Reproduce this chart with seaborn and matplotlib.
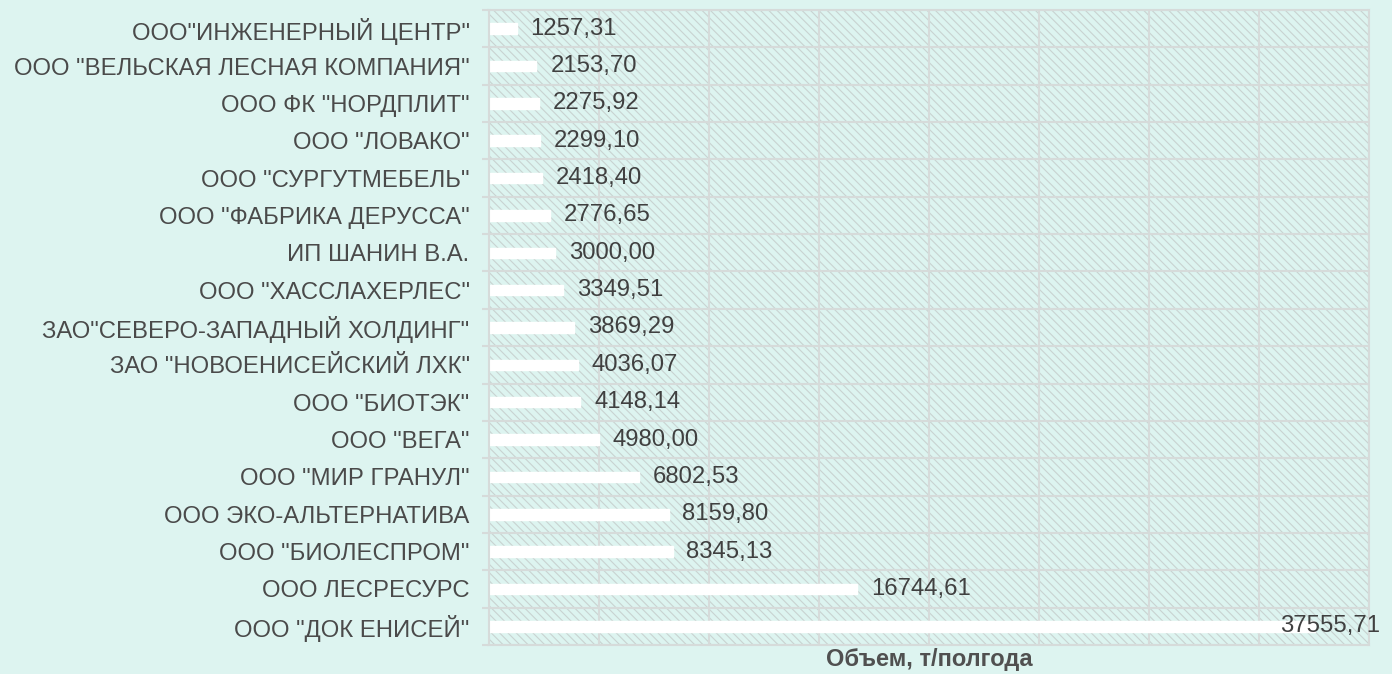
import numpy as np
import pandas as pd
import matplotlib.pyplot as plt
from matplotlib.patches import Rectangle
from matplotlib.ticker import MultipleLocator, FixedLocator, NullFormatter
import seaborn as sns

companies = ['ООО"ИНЖЕНЕРНЫЙ ЦЕНТР"', 'ООО "ВЕЛЬСКАЯ ЛЕСНАЯ КОМПАНИЯ"', 'ООО ФК "НОРДПЛИТ"',
             'ООО "ЛОВАКО"', 'ООО "СУРГУТМЕБЕЛЬ"', 'ООО "ФАБРИКА ДЕРУССА"', 'ИП ШАНИН В.А.',
             'ООО "ХАССЛАХЕРЛЕС"', 'ЗАО"СЕВЕРО-ЗАПАДНЫЙ ХОЛДИНГ"', 'ЗАО "НОВОЕНИСЕЙСКИЙ ЛХК"',
             'ООО "БИОТЭК"', 'ООО "ВЕГА"', 'ООО "МИР ГРАНУЛ"', 'ООО ЭКО-АЛЬТЕРНАТИВА',
             'ООО "БИОЛЕСПРОМ"', 'ООО ЛЕСРЕСУРС', 'ООО "ДОК ЕНИСЕЙ"']
volumes = [1257.31, 2153.70, 2275.92, 2299.10, 2418.40, 2776.65, 3000.00, 3349.51, 3869.29,
           4036.07, 4148.14, 4980.00, 6802.53, 8159.80, 8345.13, 16744.61, 37555.71]
x_title = 'Объем, т/полгода'

df = pd.DataFrame({'company': companies, 'volume': volumes})

bg = '#DDF4F0'
grid_c = '#D6DBDA'
text_c = '#404040'
fs = 17.2

sns.set_theme(style='white')
plt.rcParams['font.family'] = ['Liberation Sans', 'DejaVu Sans']
plt.rcParams['hatch.linewidth'] = 0.8

fig = plt.figure(figsize=(13.92, 6.74), dpi=100, facecolor=bg)
ax = fig.add_axes([0.3513, 0.043, 0.6322, 0.9422])
ax.set_facecolor('none')

# hatched plot area
ax.add_patch(Rectangle((0, 0), 1, 1, transform=ax.transAxes, facecolor=bg,
                       edgecolor='#C9D3D1', hatch='\\\\\\\\', lw=0, zorder=0))

sns.barplot(data=df, y='company', x='volume', orient='h', color='white',
            width=0.28, saturation=1, ax=ax, zorder=2)

ax.set_xlim(0, 40000)
ax.set_ylim(len(companies) - 0.5, -0.5)

ax.xaxis.set_major_locator(MultipleLocator(5000))
ax.xaxis.set_major_formatter(NullFormatter())
ax.tick_params(axis='x', length=0, pad=0)
ax.yaxis.set_minor_locator(FixedLocator(np.arange(-0.5, len(companies), 1.0)))
ax.tick_params(axis='y', which='major', length=0, pad=14, labelsize=fs, labelcolor='#4a4a4a')
ax.tick_params(axis='y', which='minor', length=5, width=1.5, color=grid_c, left=True)

ax.set_axisbelow(True)
ax.grid(True, axis='x', which='major', color=grid_c, lw=1.5, zorder=1)
ax.grid(True, axis='y', which='minor', color=grid_c, lw=1.5, zorder=1)
ax.grid(False, axis='y', which='major')
for s in ax.spines.values():
    s.set_color(grid_c)
    s.set_linewidth(1.5)

ax.set_ylabel('')
ax.set_xlabel(x_title, fontsize=17, fontweight='bold', color='#505050', labelpad=2)

xmax = ax.get_xlim()[1]
for i, v in enumerate(volumes):
    txt = f'{v:.2f}'.replace('.', ',')
    if v > 0.85 * xmax:
        ax.annotate(txt, xy=(1, i), xycoords=('axes fraction', 'data'), xytext=(8, 0),
                    textcoords='offset points', ha='right', va='center',
                    fontsize=fs, color=text_c, zorder=3)
    else:
        ax.annotate(txt, xy=(v, i), xytext=(10, 0), textcoords='offset points',
                    ha='left', va='center', fontsize=fs, color=text_c, zorder=3)

plt.savefig('out.png', dpi=100, facecolor=bg)
